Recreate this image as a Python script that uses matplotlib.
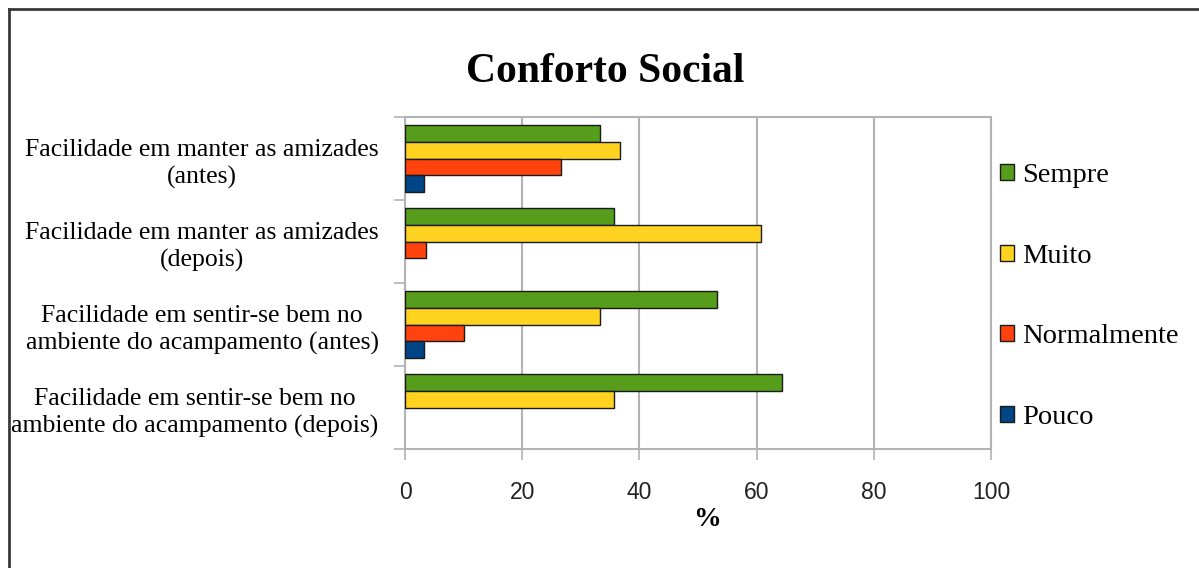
import matplotlib.pyplot as plt
from matplotlib.lines import Line2D
from matplotlib.patches import Patch
import numpy as np

# data (percent)
categories = ["Facilidade em manter as amizades\n(antes)",
              "Facilidade em manter as amizades\n(depois)",
              "Facilidade em sentir-se bem no\nambiente do acampamento (antes)",
              "Facilidade em sentir-se bem no\nambiente do acampamento (depois)"]
series_names = ["Sempre", "Muito", "Normalmente", "Pouco"]
sempre = [33.3, 35.7, 53.3, 64.3]
muito = [36.7, 60.7, 33.3, 35.7]
normalmente = [26.7, 3.6, 10.0, 0]
pouco = [3.3, 0, 3.3, 0]
xticks = [0, 20, 40, 60, 80, 100]

colors = ["#579D1C", "#FFD320", "#FF420E", "#004586"]
grid_col = "#b3b3b3"

fig = plt.figure(figsize=(11.99, 5.68), dpi=100)
ax = fig.add_axes([0.3378, 0.2095, 0.4887, 0.5845])

y = np.arange(len(categories))
h = 0.2
all_vals = [sempre, muito, normalmente, pouco]
for j, vals in enumerate(all_vals):
    lw = [1.0 if v > 0 else 0 for v in vals]  # no outline on empty bars
    ax.barh(y - 0.3 + h * j, vals, height=h, color=colors[j],
            edgecolor="#1a1a1a", linewidth=lw, zorder=3)

ax.set_xlim(0, 100)
ax.set_ylim(3.5, -0.5)
ax.set_xticks(xticks)
ax.set_xticklabels([str(v) for v in xticks], family=["Liberation Sans Narrow", "Liberation Sans"],
                   fontsize=16.5, color="#222222")
ax.tick_params(axis="x", length=8, color=grid_col, pad=15, width=1.2)
ax.grid(axis="x", color=grid_col, linewidth=1.5, zorder=0)

# category boundaries as ticks, labels at centres
ax.set_yticks(np.arange(-0.5, 4, 1.0))
ax.set_yticklabels([])
ax.tick_params(axis="y", which="major", length=8, color=grid_col, width=1.2)
ax.set_yticks(y, minor=True)
ax.set_yticklabels(categories, minor=True, family="Liberation Serif", fontsize=18.5,
                   multialignment="center", linespacing=1.3)
ax.tick_params(axis="y", which="minor", length=0, pad=19)

for s in ax.spines.values():
    s.set_color(grid_col)
    s.set_linewidth(1.5)

ax.set_xlabel("%", family="Liberation Serif", fontweight="bold", fontsize=20)
ax.xaxis.set_label_coords(0.515, -0.175)

fig.text(0.505, 0.873, "Conforto Social", family="Liberation Serif", fontweight="bold",
         fontsize=30, ha="center", va="center")

handles = [Patch(facecolor=c, edgecolor="#1a1a1a", linewidth=1.0) for c in colors]
fig.legend(handles, series_names, loc="center left", bbox_to_anchor=(0.8125, 0.478),
           frameon=False, prop={"family": "Liberation Serif", "size": 20.5},
           handlelength=0.5, handleheight=0.5, handletextpad=0.3, labelspacing=1.95)

# page border (top and left)
fig.add_artist(Line2D([8.5 / 1199, 8.5 / 1199], [0, 1 - 8.5 / 568], color="#3a3a3a", linewidth=2))
fig.add_artist(Line2D([8.5 / 1199, 1], [1 - 8.5 / 568, 1 - 8.5 / 568], color="#3a3a3a", linewidth=2))

fig.savefig("out.png", dpi=100)
